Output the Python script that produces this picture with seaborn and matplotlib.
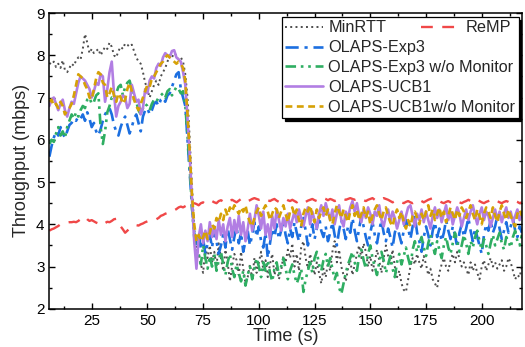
import matplotlib
matplotlib.use('Agg')
import matplotlib.pyplot as plt
from matplotlib.ticker import MultipleLocator
import seaborn as sns

# time axis (s), one sample per second
time_s = list(range(6, 219))

min_rtt = [
    7.82, 7.78, 7.85, 7.72, 7.8, 7.7, 7.88, 7.65, 7.6, 7.7,
    7.8, 7.75, 7.88, 7.95, 7.9, 8.15, 8.5, 8.3, 8.05, 8.15,
    8.05, 8.1, 8.15, 8.0, 8.1, 8.2, 8.15, 8.3, 8.2, 8.0,
    7.95, 8.1, 8.2, 8.15, 8.28, 8.25, 8.2, 8.25, 8.1, 7.95,
    7.85, 7.8, 7.6, 7.35, 7.2, 7.0, 7.15, 7.3, 7.4, 7.3,
    7.5, 7.6, 7.7, 7.85, 8.0, 7.95, 8.05, 8.0, 7.9, 7.95,
    7.85, 7.55, 7.0, 6.0, 4.9, 3.9, 3.4,
    3.3, 3.05, 2.85, 3.45, 3.2, 3.5, 3.1, 3.35, 3.0, 3.55,
    3.2, 2.9, 3.4, 3.1, 2.65, 3.0, 3.3, 3.15, 2.8, 3.35,
    2.95, 2.6, 2.75, 3.05, 2.7, 3.2, 2.85, 3.1, 3.35, 2.9,
    3.15, 2.75, 3.05, 3.3, 2.8, 3.0, 2.7, 2.9, 3.25, 3.1,
    3.4, 3.2, 3.55, 3.0, 3.3, 2.9, 3.45, 3.6, 3.2, 2.95,
    3.3, 3.05, 2.8, 3.1, 2.85, 2.6, 2.95, 2.75, 3.1, 2.9,
    3.35, 3.6, 3.1, 3.4, 3.0, 2.8, 2.65, 2.95, 3.15, 2.8,
    3.05, 3.3, 3.5, 3.2, 3.55, 3.35, 3.0, 3.25, 2.9, 3.1,
    3.4, 3.15, 2.85, 3.2, 3.5, 3.25, 3.05, 3.4, 3.0, 2.75,
    2.9, 2.6, 2.45, 2.4, 2.7, 3.0, 3.2, 3.05, 3.3, 3.1,
    2.95, 3.25, 3.05, 2.8, 2.95, 2.7, 2.6, 2.5, 2.85, 3.05,
    3.2, 3.0, 2.9, 3.15, 3.3, 3.1, 3.35, 3.2, 3.0, 3.1,
    2.95, 2.8, 3.1, 2.9, 3.05, 2.85, 2.7, 3.0, 3.15, 2.9,
    3.05, 3.2, 3.0, 3.1, 2.95, 3.05, 3.15, 2.9, 3.0, 3.2,
    3.1, 2.9, 2.7, 2.8, 2.75, 3.0,
]

remp = [
    3.85, 3.88, 3.9, 3.93, 3.96, 4.0, 4.02, 4.03, 4.04, 4.05,
    4.05, 4.06, 4.05, 4.08, 4.12, 4.15, 4.18, 4.12, 4.08, 4.1,
    4.07, 4.04, 4.02, 4.0, 3.98, 4.03, 4.06, 4.05, 4.08, 4.12,
    4.13, 4.05, 3.95, 3.88, 3.8, 3.85, 3.9, 3.93, 3.96, 3.98,
    3.97, 4.0, 4.02, 4.05, 4.07, 4.08, 4.1, 4.12, 4.12, 4.15,
    4.2, 4.22, 4.25, 4.27, 4.28, 4.3, 4.33, 4.36, 4.4, 4.42,
    4.4, 4.43, 4.46, 4.5, 4.52, 4.5, 4.48,
    4.45, 4.5, 4.52, 4.48, 4.5, 4.53, 4.55, 4.52, 4.5, 4.55,
    4.57, 4.54, 4.5, 4.53, 4.56, 4.58, 4.55, 4.52, 4.56, 4.6,
    4.62, 4.58, 4.55, 4.57, 4.6, 4.62, 4.6, 4.58, 4.6, 4.62,
    4.6, 4.57, 4.55, 4.58, 4.6, 4.56, 4.53, 4.55, 4.58, 4.6,
    4.57, 4.55, 4.58, 4.55, 4.52, 4.56, 4.58, 4.55, 4.53, 4.56,
    4.58, 4.6, 4.57, 4.55, 4.58, 4.6, 4.62, 4.6, 4.57, 4.6,
    4.58, 4.55, 4.57, 4.6, 4.62, 4.6, 4.58, 4.6, 4.62, 4.6,
    4.58, 4.6, 4.62, 4.6, 4.57, 4.55, 4.58, 4.6, 4.62, 4.58,
    4.55, 4.57, 4.6, 4.62, 4.6, 4.58, 4.55, 4.52, 4.55, 4.57,
    4.55, 4.52, 4.5, 4.53, 4.55, 4.52, 4.5, 4.53, 4.56, 4.58,
    4.55, 4.52, 4.55, 4.58, 4.6, 4.62, 4.6, 4.57, 4.55, 4.52,
    4.5, 4.53, 4.55, 4.52, 4.5, 4.53, 4.55, 4.52, 4.5, 4.53,
    4.55, 4.58, 4.55, 4.52, 4.55, 4.57, 4.55, 4.52, 4.5, 4.53,
    4.55, 4.57, 4.6, 4.58, 4.55, 4.52, 4.5, 4.53, 4.55, 4.53,
    4.5, 4.52, 4.55, 4.53, 4.5, 4.52,
]

exp3 = [
    5.6, 5.85, 6.05, 6.2, 6.1, 6.3, 6.15, 6.05, 6.2, 6.35,
    6.4, 6.5, 6.45, 6.55, 6.5, 6.6, 6.45, 6.65, 6.5, 6.3,
    6.4, 6.2, 6.1, 6.25, 6.45, 6.6, 6.7, 6.75, 6.6, 6.35,
    6.2, 6.1, 6.3, 6.45, 6.55, 6.35, 6.15, 6.3, 6.5, 6.6,
    6.4, 6.2, 6.55, 6.7, 6.75, 6.6, 6.7, 6.85, 6.9, 6.8,
    6.95, 7.0, 6.9, 7.05, 7.1, 7.25, 7.4, 7.55, 7.6, 7.2,
    7.0, 6.8, 6.0, 5.2, 4.4, 3.8, 3.5,
    3.8, 3.4, 3.65, 3.3, 3.55, 3.75, 3.45, 3.85, 3.6, 3.3,
    3.5, 3.75, 3.45, 3.9, 3.65, 3.4, 3.7, 3.95, 3.55, 3.8,
    3.35, 3.6, 3.85, 3.5, 3.75, 4.05, 3.7, 3.95, 3.6, 3.45,
    3.8, 3.2, 3.55, 3.9, 3.7, 4.0, 3.65, 3.85, 4.1, 3.75,
    3.55, 3.9, 3.7, 4.05, 3.8, 3.6, 3.95, 4.15, 3.85, 3.5,
    3.75, 4.0, 3.65, 3.9, 4.2, 3.85, 3.7, 3.95, 3.6, 3.8,
    4.05, 3.75, 3.5, 3.85, 4.1, 3.9, 3.65, 3.95, 3.8, 4.15,
    3.85, 3.6, 3.9, 4.2, 3.95, 3.7, 3.5, 3.8, 4.05, 3.75,
    3.55, 3.85, 4.1, 3.8, 3.6, 3.9, 3.7, 3.45, 3.8, 4.0,
    3.75, 3.55, 3.85, 4.1, 3.9, 3.65, 3.95, 4.2, 3.8, 3.6,
    3.35, 3.7, 3.95, 3.75, 3.5, 3.85, 4.05, 3.7, 3.9, 3.6,
    3.8, 4.1, 3.85, 3.65, 3.95, 3.75, 3.45, 3.8, 4.0, 3.7,
    3.9, 4.15, 3.85, 3.6, 3.9, 3.7, 3.5, 3.3, 3.75, 4.0,
    3.85, 4.1, 3.8, 3.95, 4.2, 3.9, 3.65, 3.85, 4.05, 3.8,
    3.95, 4.15, 3.85, 3.7, 3.95, 3.8,
]

exp3_no_mon = [
    5.9, 6.0, 5.95, 6.15, 6.3, 6.1, 6.2, 6.05, 6.3, 6.45,
    6.6, 6.5, 6.65, 6.55, 6.7, 6.8, 6.75, 6.95, 7.0, 6.85,
    6.9, 7.05, 7.1, 6.3, 5.9, 6.2, 6.65, 6.8, 7.0, 6.95,
    7.1, 7.25, 7.3, 7.05, 7.25, 7.35, 7.4, 7.2, 6.95, 6.9,
    6.7, 6.6, 6.75, 6.85, 6.8, 6.7, 6.85, 6.95, 6.9, 7.0,
    7.05, 7.1, 7.0, 7.15, 7.2, 7.05, 7.15, 7.25, 7.2, 7.1,
    7.15, 6.8, 6.1, 5.3, 4.4, 3.7, 3.3,
    3.3, 3.05, 3.5, 3.2, 2.95, 3.25, 3.0, 3.3, 2.9, 3.15,
    3.35, 3.05, 2.8, 3.1, 3.3, 2.95, 2.75, 3.05, 2.85, 2.65,
    2.9, 2.55, 2.8, 3.0, 2.7, 2.95, 3.2, 3.0, 2.75, 3.1,
    2.9, 3.15, 2.85, 2.65, 2.95, 3.1, 2.8, 3.0, 3.2, 2.95,
    2.7, 2.9, 3.05, 2.8, 2.6, 2.75, 2.95, 2.4, 2.7, 2.9,
    3.1, 2.85, 3.2, 3.35, 3.05, 2.9, 3.15, 3.3, 3.0, 3.2,
    2.95, 2.7, 2.85, 2.5, 2.35, 2.6, 2.85, 3.05, 3.2, 3.35,
    3.1, 2.9, 3.25, 3.4, 3.15, 2.95, 3.3, 3.5, 3.2, 3.0,
    2.8, 3.1, 3.35, 3.15, 2.85, 3.05, 3.25, 2.95, 2.75, 3.1,
    3.3, 3.05, 3.25, 3.45, 3.2, 3.0, 3.4, 3.6, 3.35, 3.55,
    3.7, 3.45, 3.25, 3.55, 3.75, 3.5, 3.3, 3.6, 3.4, 3.2,
    3.5, 3.7, 3.45, 3.3, 3.55, 3.8, 3.6, 3.35, 3.5, 3.75,
    3.55, 3.3, 3.6, 3.45, 3.7, 3.85, 3.6, 3.4, 3.65, 3.5,
    3.3, 3.55, 3.75, 3.5, 3.65, 3.8, 3.55, 3.4, 3.7, 3.6,
    3.45, 3.7, 3.85, 3.6, 3.5, 3.75,
]

ucb1 = [
    6.8, 6.95, 7.0, 6.85, 6.7, 6.85, 6.95, 6.7, 6.55, 6.75,
    6.9, 6.85, 7.1, 7.35, 7.5, 7.45, 7.4, 7.3, 7.2, 7.0,
    7.15, 7.35, 7.3, 7.55, 7.5, 6.9, 7.2, 7.6, 7.85, 7.1,
    6.55, 6.8, 6.9, 7.05, 7.0, 6.75, 6.85, 7.3, 7.1, 6.9,
    6.95, 6.6, 6.75, 7.2, 7.1, 7.4, 7.5, 7.45, 7.7, 7.8,
    7.75, 7.95, 8.05, 8.0, 7.95, 8.1, 8.12, 7.95, 7.9, 7.85,
    7.6, 7.3, 6.5, 5.6, 4.6, 3.6, 2.95,
    3.7, 4.0, 3.55, 3.85, 3.6, 4.05, 3.7, 3.95, 3.65, 4.1,
    3.75, 4.0, 3.6, 3.95, 4.15, 3.7, 4.1, 3.8, 4.2, 3.75,
    4.05, 3.6, 3.9, 4.25, 3.85, 4.1, 4.45, 4.2, 3.9, 4.3,
    3.75, 4.0, 3.65, 4.2, 3.9, 4.35, 4.1, 3.85, 4.15, 3.95,
    4.25, 3.9, 4.1, 4.3, 4.05, 4.35, 4.15, 3.95, 4.2, 4.4,
    4.0, 4.3, 4.1, 3.9, 4.25, 4.45, 4.2, 4.5, 4.3, 4.1,
    4.35, 4.0, 4.25, 4.45, 4.1, 3.95, 4.3, 4.15, 4.4, 4.55,
    4.3, 4.5, 4.2, 4.05, 4.35, 4.15, 4.4, 4.25, 4.0, 4.3,
    4.2, 4.45, 4.1, 3.95, 4.2, 4.35, 4.05, 4.3, 4.15, 3.9,
    4.1, 4.3, 4.0, 4.2, 4.4, 4.45, 4.2, 3.95, 4.25, 4.1,
    4.35, 4.05, 4.3, 4.1, 3.9, 4.2, 4.4, 4.15, 4.35, 4.05,
    4.25, 4.45, 4.1, 4.3, 4.0, 4.2, 4.4, 4.25, 3.95, 4.15,
    4.35, 4.1, 4.3, 4.45, 4.2, 4.0, 4.25, 4.4, 4.1, 4.3,
    4.2, 3.95, 4.15, 4.35, 4.1, 4.3, 4.05, 4.25, 4.4, 4.15,
    4.3, 4.05, 4.2, 4.35, 4.1, 4.25,
]

ucb1_no_mon = [
    6.9, 6.95, 6.8, 6.85, 6.75, 6.9, 6.8, 6.6, 6.7, 6.75,
    6.85, 7.05, 7.3, 7.55, 7.5, 7.45, 7.3, 7.2, 7.0, 6.95,
    7.2, 7.45, 7.6, 7.55, 7.35, 7.3, 7.0, 7.1, 7.25, 7.05,
    6.9, 7.1, 7.0, 6.85, 6.95, 7.2, 7.35, 7.15, 6.95, 6.8,
    6.7, 6.85, 7.0, 7.15, 7.3, 7.25, 7.45, 7.5, 7.6, 7.7,
    7.8, 7.85, 7.95, 8.0, 7.95, 7.9, 7.85, 7.8, 7.85, 7.8,
    7.7, 7.4, 6.6, 5.7, 4.7, 4.0, 3.6,
    3.75, 3.6, 3.7, 3.85, 3.65, 3.8, 4.0, 3.9, 4.15, 4.05,
    4.25, 4.1, 4.35, 4.2, 4.4, 4.3, 4.45, 4.35, 4.25, 4.4,
    4.3, 4.45, 4.2, 4.05, 3.95, 4.15, 4.3, 4.4, 4.2, 4.35,
    4.45, 4.3, 4.1, 4.25, 4.4, 4.35, 4.15, 4.3, 4.45, 4.25,
    4.05, 4.3, 4.4, 4.2, 4.35, 4.1, 3.95, 4.25, 4.4, 4.3,
    4.45, 4.2, 4.05, 4.35, 4.15, 4.3, 4.4, 4.2, 4.35, 4.1,
    4.0, 4.25, 4.45, 4.3, 4.15, 4.35, 4.2, 4.05, 4.3, 4.45,
    4.2, 4.35, 4.1, 4.25, 4.4, 4.15, 4.3, 4.0, 4.2, 4.35,
    4.45, 4.25, 4.1, 4.3, 4.4, 4.2, 4.05, 3.95, 4.2, 4.35,
    4.15, 4.3, 4.05, 3.9, 4.1, 3.95, 4.2, 4.3, 4.15, 4.0,
    4.25, 4.1, 4.3, 4.45, 4.2, 4.35, 4.1, 4.25, 4.4, 4.15,
    4.3, 4.05, 4.2, 4.4, 4.25, 4.1, 4.35, 4.2, 4.4, 4.3,
    4.15, 4.3, 4.45, 4.25, 4.1, 4.35, 4.2, 4.0, 4.25, 4.4,
    4.3, 4.15, 4.4, 4.2, 4.05, 4.3, 4.45, 4.25, 4.1, 4.35,
    4.2, 4.05, 3.95, 4.25, 4.35, 4.2,
]

labels = ['MinRTT', 'ReMP', 'OLAPS-Exp3', 'OLAPS-Exp3 w/o Monitor',
          'OLAPS-UCB1', 'OLAPS-UCB1w/o Monitor']
series = [min_rtt, remp, exp3, exp3_no_mon, ucb1, ucb1_no_mon]
colors = ['#4d4d4d', '#f04848', '#1c6fe0', '#2fae62', '#b27ee3', '#d6a106']
styles = [(0, (1, 1.7)), (0, (5, 4)), (0, (5, 2.2, 1.2, 2.2)),
          (0, (4, 1.8, 1, 1.8, 1, 1.8)), '-', (0, (2.6, 1.7))]
widths = [1.4, 1.7, 1.9, 1.9, 1.9, 1.9]

sns.set_theme(style="ticks")
plt.rcParams['font.family'] = ['Liberation Sans', 'DejaVu Sans']

fig = plt.figure(figsize=(5.25, 3.47), dpi=100)
ax = fig.add_axes([0.094, 0.11, 0.9, 0.8525])

lines = {}
for lab, vals, col, ls, lw in zip(labels, series, colors, styles, widths):
    sns.lineplot(x=time_s, y=vals, ax=ax, color=col, linestyle=ls,
                 linewidth=lw, label=lab, legend=False)
    lines[lab] = ax.get_lines()[-1]

ax.set_xlim(6, 218)
ax.set_ylim(2, 9)
ax.xaxis.set_major_locator(MultipleLocator(25))
ax.xaxis.set_minor_locator(MultipleLocator(12.5))
ax.yaxis.set_major_locator(MultipleLocator(1))
ax.yaxis.set_minor_locator(MultipleLocator(0.5))
ax.tick_params(which='both', direction='in', top=True, right=True,
               labelsize=11, colors='black', width=1)
ax.tick_params(which='major', length=4.5)
ax.tick_params(which='minor', length=2.5)
for sp in ax.spines.values():
    sp.set_linewidth(1.1)
    sp.set_color('black')
ax.set_xlabel('Time (s)', fontsize=13, labelpad=0)
ax.set_ylabel('Throughput (mbps)', fontsize=13, labelpad=4)

main_labels = ['MinRTT', 'OLAPS-Exp3', 'OLAPS-Exp3 w/o Monitor',
               'OLAPS-UCB1', 'OLAPS-UCB1w/o Monitor']
leg = ax.legend([lines[l] for l in main_labels], main_labels,
                loc='upper right', bbox_to_anchor=(0.993, 0.986),
                borderaxespad=0, fontsize=11.7, handlelength=2.3,
                handletextpad=0.35, labelspacing=0.3, borderpad=0.2,
                fancybox=False, framealpha=1, edgecolor='black',
                shadow={'color': 'black', 'alpha': 1})
leg.get_frame().set_linewidth(0.9)
ax.add_artist(leg)

leg2 = ax.legend([lines['ReMP']], ['ReMP'], loc='upper right',
                 bbox_to_anchor=(0.985, 0.986), borderaxespad=0,
                 fontsize=11.7, handlelength=2.3, handletextpad=0.5,
                 borderpad=0.2, frameon=False)

fig.savefig('out.png', dpi=100)
